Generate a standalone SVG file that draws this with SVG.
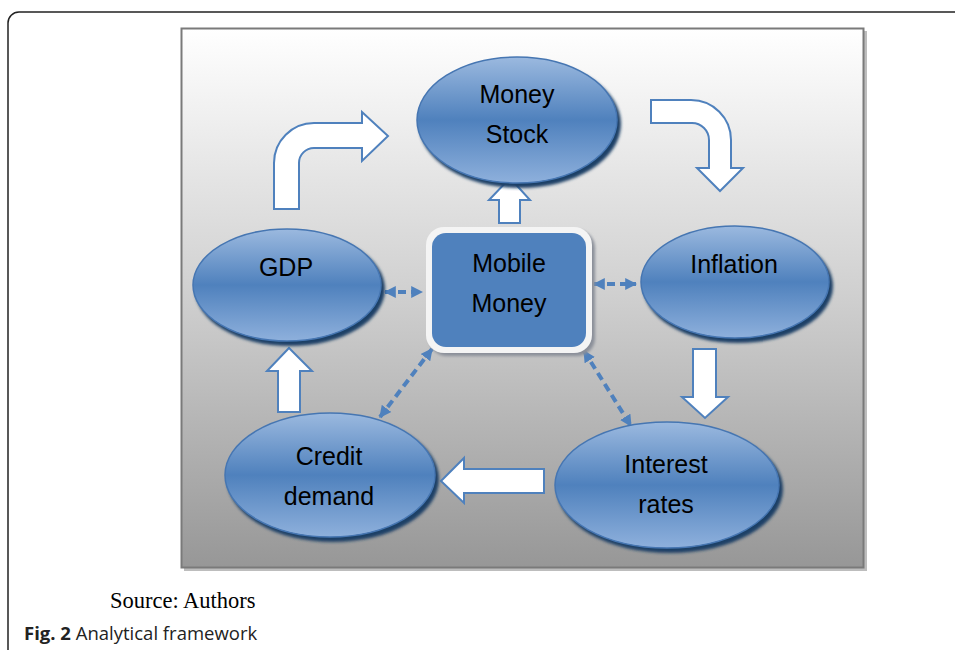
<svg xmlns="http://www.w3.org/2000/svg" width="955" height="650" viewBox="0 0 955 650">
<defs>
<linearGradient id="bg" x1="0" y1="0" x2="0" y2="1">
<stop offset="0" stop-color="#ffffff"/>
<stop offset="0.5" stop-color="#cfcfcf"/>
<stop offset="1" stop-color="#979797"/>
</linearGradient>
<linearGradient id="ell" x1="0" y1="0" x2="0" y2="1">
<stop offset="0" stop-color="#9bb9df"/>
<stop offset="0.5" stop-color="#4f81bd"/>
<stop offset="1" stop-color="#8eb0dc"/>
</linearGradient>
<filter id="blur" x="-10%" y="-10%" width="120%" height="130%">
<feGaussianBlur stdDeviation="1.5"/>
</filter>
<marker id="ah" viewBox="0 0 10 10" refX="9" refY="5" markerWidth="3" markerHeight="3.4" orient="auto-start-reverse" markerUnits="strokeWidth">
<path d="M0,0 L10,5 L0,10 Z" fill="#4f81bd"/>
</marker>
<style>
.node ellipse.sh{fill:#1f3f66;filter:url(#blur);}
.node ellipse.fg{fill:url(#ell);stroke:#4676b2;stroke-width:1.5;}
.lbl{font-family:"Liberation Sans",Arial,sans-serif;font-size:25px;fill:#000;text-anchor:middle;}
.blk{fill:#ffffff;stroke:#4f81bd;stroke-width:2;stroke-linejoin:miter;}
.dash{fill:none;stroke:#4f81bd;stroke-width:4;stroke-dasharray:8,5;marker-start:url(#ah);marker-end:url(#ah);}
</style>
</defs>
<path d="M8,650 L8,23 A11,11 0 0 1 19,12 L955,12" fill="none" stroke="#222" stroke-width="1.5"/>
<rect x="184" y="31" width="683" height="540" fill="#bdbdbd"/>
<rect x="181.5" y="28.5" width="682" height="539" fill="url(#bg)" stroke="#7a7a7a" stroke-width="2"/>

<g id="connectors">
<path class="blk" d="M274,209 L274,163 A40,40 0 0 1 314,123 L362,123 L362,112 L388,136 L362,161 L362,148 L314,148 A15,15 0 0 0 299,163 L299,209 Z"/>
<path class="blk" d="M651,100 L691,100 A40,40 0 0 1 731,140 L731,168 L743,168 L720,191 L697,168 L709,168 L709,140 A17,17 0 0 0 692,123 L651,123 Z"/>
<path class="blk" d="M499,223 L499,200 L489,200 L510,178 L530,200 L520,200 L520,223 Z"/>
<path class="blk" d="M693,349 L716,349 L716,397 L728,397 L705,418 L682,397 L693,397 Z"/>
<path class="blk" d="M544,469 L544,493 L464,493 L464,503 L441,481 L464,458 L464,469 Z"/>
<path class="blk" d="M278,412 L278,371 L267,371 L289,348 L312,371 L300,371 L300,412 Z"/>
<line class="dash" x1="385" y1="292" x2="422" y2="292"/>
<line class="dash" x1="594" y1="284" x2="636" y2="284"/>
<line class="dash" x1="432" y1="349" x2="380" y2="417"/>
<line class="dash" x1="584" y1="351" x2="631" y2="426"/>
</g>

<g id="money-stock" class="node">
<ellipse class="sh" cx="520" cy="124" rx="101" ry="64"/>
<ellipse class="fg" cx="517" cy="120" rx="100" ry="63"/>
<text class="lbl" x="517" y="103">Money</text>
<text class="lbl" x="517" y="143">Stock</text>
</g>
<g id="gdp" class="node">
<ellipse class="sh" cx="290" cy="289" rx="95" ry="57"/>
<ellipse class="fg" cx="287" cy="285" rx="94" ry="56"/>
<text class="lbl" x="286" y="276">GDP</text>
</g>
<g id="inflation" class="node">
<ellipse class="sh" cx="738" cy="286" rx="95" ry="57"/>
<ellipse class="fg" cx="735" cy="282" rx="94" ry="56"/>
<text class="lbl" x="734" y="273">Inflation</text>
</g>
<g id="credit-demand" class="node">
<ellipse class="sh" cx="333" cy="479" rx="106" ry="63"/>
<ellipse class="fg" cx="330" cy="475" rx="105" ry="62"/>
<text class="lbl" x="329" y="465">Credit</text>
<text class="lbl" x="329" y="505">demand</text>
</g>
<g id="interest-rates" class="node">
<ellipse class="sh" cx="670" cy="489" rx="113" ry="64"/>
<ellipse class="fg" cx="667" cy="485" rx="112" ry="63"/>
<text class="lbl" x="666" y="473">Interest</text>
<text class="lbl" x="666" y="513">rates</text>
</g>
<g id="mobile-money">
<rect x="429" y="230" width="166" height="126" rx="18" fill="#8a8f99" filter="url(#blur)"/>
<rect x="426" y="227" width="166" height="126" rx="18" fill="#f4f4f4"/>
<rect x="432" y="233" width="154" height="114" rx="14" fill="#4f81bd"/>
<text class="lbl" x="509" y="272">Mobile</text>
<text class="lbl" x="509" y="312">Money</text>
</g>

<text x="110" y="608" font-family="Liberation Serif,Times New Roman,serif" font-size="22.5" fill="#000">Source: Authors</text>
<text x="24" y="640" font-family="Open Sans,Noto Sans,sans-serif" font-size="18.5" fill="#222"><tspan font-weight="bold">Fig. 2</tspan> Analytical framework</text>
</svg>
